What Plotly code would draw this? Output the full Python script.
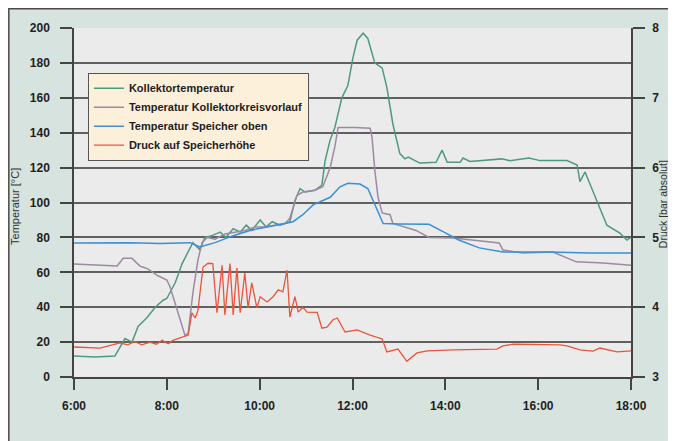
import plotly.graph_objects as go

# ---------------- data (time in decimal hours) ----------------
x_ticks = [6, 8, 10, 12, 14, 16, 18]
x_ticktext = ["6:00", "8:00", "10:00", "12:00", "14:00", "16:00", "18:00"]

kollektor_t = [6.00, 6.45, 6.88, 7.10, 7.25, 7.38, 7.57, 7.75, 7.92, 8.00, 8.18, 8.33, 8.56, 8.71, 8.82,
               8.97, 9.15, 9.27, 9.43, 9.58, 9.71, 9.83, 10.01, 10.14, 10.27, 10.44, 10.65, 10.76, 10.87,
               10.98, 11.19, 11.34, 11.41, 11.52, 11.62, 11.77, 11.90, 12.01, 12.10, 12.23, 12.33, 12.48,
               12.64, 12.74, 12.87, 13.02, 13.13, 13.20, 13.45, 13.80, 13.93, 14.04, 14.32, 14.38, 14.53,
               15.22, 15.39, 15.80, 16.04, 16.62, 16.84, 16.90, 17.01, 17.27, 17.48, 17.76, 17.91, 18.00]
kollektor_v = [12, 11.5, 12, 22, 20, 29, 34, 40, 44, 45, 54, 65, 77, 73, 80,
               81, 83, 80, 85, 83, 87, 84, 90, 86, 89, 87, 89, 101, 108,
               106, 107, 110, 124, 136, 143, 160, 167, 183, 193, 197, 194, 180,
               177, 166, 145, 128, 125, 126, 122.6, 123, 130, 123, 123, 125.5, 123.5,
               125, 124, 125.5, 124, 124, 121.5, 112, 117.5, 101, 87, 82.5, 78.5, 80]

vorlauf_t = [6.00, 6.93, 7.06, 7.25, 7.42, 7.59, 7.81, 8.00, 8.07, 8.39, 8.46, 8.56, 8.67, 8.76, 8.87,
             9.04, 9.25, 9.47, 9.68, 9.90, 10.11, 10.33, 10.55, 10.65, 10.80, 10.93, 11.19, 11.36, 11.52,
             11.62, 11.69, 12.05, 12.38, 12.42, 12.48, 12.55, 12.64, 12.81, 12.87, 13.37, 13.65, 14.17,
             15.16, 15.24, 15.67, 16.32, 16.82, 17.40, 18.00]
vorlauf_v = [64.8, 63.6, 68, 68, 63.6, 62, 58, 55.6, 51.6, 24, 25, 48, 67, 77, 80,
             79, 82, 83, 84, 86, 86, 87, 88, 91, 104, 106, 107, 109, 120,
             132, 143, 143, 142.6, 137.5, 118.6, 103, 94, 93, 88, 84, 80, 79.6,
             76.8, 72.8, 71, 71.6, 66, 65.3, 64]

speicher_t = [6.00, 7.21, 7.85, 8.50, 8.71, 9.04, 9.43, 9.79, 10.16, 10.72, 10.93, 11.15, 11.52, 11.73,
              11.90, 12.16, 12.33, 12.44, 12.55, 12.66, 13.02, 13.65, 13.97, 14.29, 14.73, 15.24, 16.23,
              17.12, 18.00]
speicher_v = [76.8, 77, 76.5, 77, 74.5, 77, 81, 84, 86, 89, 93, 98.6, 103, 109,
              111, 110.6, 108, 101, 94, 88, 87.7, 87.5, 83, 78.5, 74, 71.6, 71.6,
              71, 71]

druck_t = [6.00, 6.56, 6.99, 7.16, 7.31, 7.46, 7.64, 7.77, 7.90, 8.03, 8.13, 8.35, 8.46, 8.54, 8.61,
           8.67, 8.78, 8.89, 8.99, 9.08, 9.19, 9.25, 9.36, 9.43, 9.51, 9.58, 9.68, 9.75, 9.83, 9.94,
           10.01, 10.16, 10.29, 10.40, 10.50, 10.59, 10.65, 10.76, 10.83, 10.93, 11.02, 11.24, 11.34,
           11.45, 11.58, 11.67, 11.84, 12.10, 12.38, 12.64, 12.74, 12.98, 13.17, 13.39, 13.61, 14.17,
           15.11, 15.24, 15.46, 16.47, 16.62, 16.90, 17.18, 17.33, 17.70, 18.00]
druck_v = [3.43, 3.415, 3.49, 3.46, 3.51, 3.46, 3.50, 3.47, 3.525, 3.475, 3.525, 3.575, 3.60, 3.92, 3.845,
           3.95, 4.575, 4.63, 4.625, 3.92, 4.60, 3.89, 4.625, 3.89, 4.56, 3.92, 4.49, 3.99, 4.35, 3.99,
           4.15, 4.075, 4.15, 4.25, 4.22, 4.53, 3.86, 4.15, 3.93, 4.00, 3.93, 3.925, 3.70,
           3.715, 3.82, 3.845, 3.645, 3.675, 3.60, 3.545, 3.36, 3.40, 3.225, 3.345, 3.375, 3.39,
           3.40, 3.445, 3.47, 3.46, 3.445, 3.39, 3.37, 3.415, 3.36, 3.375]

# ---------------- styling ----------------
C_GREEN = "#4f9a7f"
C_MAUVE = "#9c8aa0"
C_BLUE = "#3a8fd6"
C_RED = "#e8553a"
FRAME_BG = "#d6e3de"
PLOT_BG = "#ebebeb"
GRID = "#606060"
AXIS = "#444444"
TXT = "#1e1e1e"

fig = go.Figure()
fig.add_trace(go.Scatter(x=kollektor_t, y=kollektor_v, mode="lines", name="Kollektortemperatur",
                         line=dict(color=C_GREEN, width=1.5)))
fig.add_trace(go.Scatter(x=vorlauf_t, y=vorlauf_v, mode="lines", name="Temperatur Kollektorkreisvorlauf",
                         line=dict(color=C_MAUVE, width=1.5)))
fig.add_trace(go.Scatter(x=speicher_t, y=speicher_v, mode="lines", name="Temperatur Speicher oben",
                         line=dict(color=C_BLUE, width=1.5)))
fig.add_trace(go.Scatter(x=druck_t, y=druck_v, mode="lines", name="Druck auf Speicherhöhe",
                         line=dict(color=C_RED, width=1.3), yaxis="y2"))

tickfont = dict(family="Liberation Sans, Arial, sans-serif", size=12, color=TXT, weight="bold")
titlefont = dict(family="Liberation Sans, Arial, sans-serif", size=11, color="#333333")

fig.update_layout(
    width=676, height=441, autosize=False,
    margin=dict(l=66, r=53, t=20, b=72),
    paper_bgcolor=FRAME_BG,
    plot_bgcolor=PLOT_BG,
    showlegend=True,
    legend=dict(
        x=0.025, y=0.872, xanchor="left", yanchor="top",
        bgcolor="#fdf0da", bordercolor="#555555", borderwidth=1,
        font=dict(family="Liberation Sans Narrow, Arial Narrow, Liberation Sans, sans-serif",
                  size=11, color=TXT, weight="bold"),
        itemwidth=30, tracegroupgap=0,
    ),
    xaxis=dict(
        range=[6, 18], tickvals=x_ticks, ticktext=x_ticktext,
        showgrid=False, zeroline=False,
        showline=True, linecolor=AXIS, linewidth=1.5,
        ticks="outside", ticklen=11, tickwidth=1.5, tickcolor=AXIS,
        tickfont=tickfont, ticklabelstandoff=6,
    ),
    yaxis=dict(
        range=[0, 200], dtick=20, tick0=0,
        showgrid=True, gridcolor=GRID, gridwidth=1.6, zeroline=False,
        showline=True, linecolor=AXIS, linewidth=1.5,
        ticks="outside", ticklen=12, tickwidth=1.5, tickcolor=AXIS,
        tickfont=tickfont, ticklabelstandoff=8,
    ),
    yaxis2=dict(
        range=[3, 8], dtick=1, tick0=3, overlaying="y", side="right",
        showgrid=False, zeroline=False,
        showline=True, linecolor=AXIS, linewidth=1.5,
        ticks="outside", ticklen=12, tickwidth=1.5, tickcolor=AXIS,
        tickfont=tickfont, ticklabelstandoff=5,
    ),
    shapes=[
        dict(type="rect", xref="paper", yref="paper", x0=-0.117, x1=1.2, y0=-0.3, y1=1.055,
             fillcolor=FRAME_BG, line=dict(color="#4a4a4a", width=1.5), layer="below"),
        dict(type="rect", xref="paper", yref="paper", x0=0, x1=1, y0=0, y1=1,
             fillcolor=PLOT_BG, line=dict(width=0), layer="below"),
    ],
    annotations=[
        dict(text="Temperatur [°C]", xref="paper", yref="paper", x=-0.106, y=0.49,
             textangle=-90, showarrow=False, xanchor="center", yanchor="middle",
             font=titlefont),
        dict(text="Druck [bar absolut]", xref="paper", yref="paper", x=1.058, y=0.496,
             textangle=-90, showarrow=False, xanchor="center", yanchor="middle",
             font=dict(family="Liberation Sans, Arial, sans-serif", size=10.5, color="#333333")),
    ],
)

fig.write_html("out.html")
